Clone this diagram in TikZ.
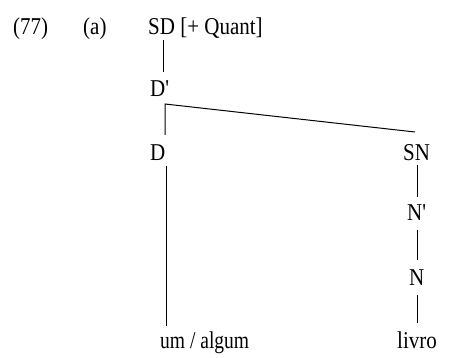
\documentclass[tikz,border=0pt]{standalone}
\usepackage{fontspec}
\setmainfont{Liberation Serif}[Ligatures=TeXOff]
\newcommand{\tallt}[1]{\scalebox{1}[1.15]{#1}}
\begin{document}
\begin{tikzpicture}[x=1pt,y=-1pt,
  lab/.style={anchor=base west,inner sep=0pt,font=\fontsize{21}{24}\selectfont},
  edge/.style={line width=1pt}]
\useasboundingbox (0,0) rectangle (450,358);
\node[lab] (ex) at (13,35) {\tallt{(77)}};
\node[lab] (sub) at (83,35) {\tallt{(a)}};
\node[lab] (sd) at (148,35) {\tallt{SD [+ Quant]}};
\node[lab] (dp) at (150,97) {\tallt{D'}};
\node[lab] (d) at (150,161) {\tallt{D}};
\node[lab] (sn) at (403,161) {\tallt{SN}};
\node[lab] (np) at (407,221) {\tallt{N'}};
\node[lab] (n) at (409,285) {\tallt{N}};
\node[lab] (livro) at (397,348) {\tallt{livro}};
\node[lab] (um) at (160,348) {\scalebox{0.93}[1.15]{um / algum}};
\draw[edge] ([shift={(15,5)}]sd.base west) -- ([shift={(13,-25)}]dp.base west);
\draw[edge] ([shift={(15,-26)}]d.base west) -- ([shift={(15,7)}]dp.base west) -- ([shift={(12,-29)}]sn.base west);
\draw[edge] ([shift={(16,5)}]d.base west) -- ([shift={(6,-22)}]um.base west);
\draw[edge] ([shift={(14,4)}]sn.base west) -- ([shift={(10,-24)}]np.base west);
\draw[edge] ([shift={(10,9)}]np.base west) -- ([shift={(8,-25)}]n.base west);
\draw[edge] ([shift={(8,10)}]n.base west) -- ([shift={(20,-25)}]livro.base west);
\end{tikzpicture}
\end{document}
